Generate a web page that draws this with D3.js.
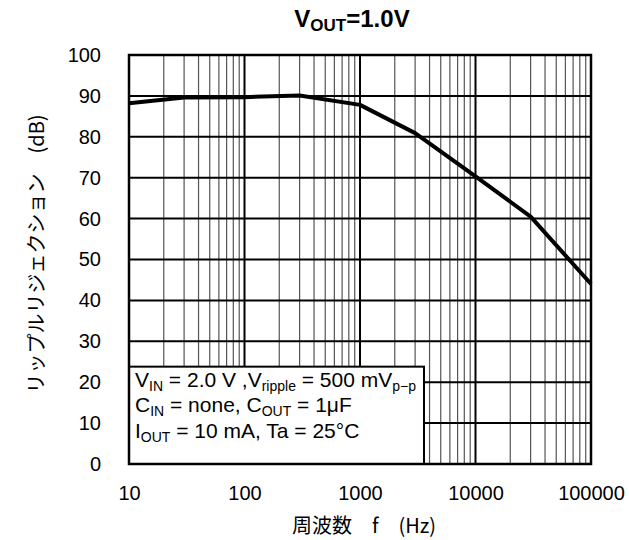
<!DOCTYPE html>
<html>
<head>
<meta charset="utf-8">
<script src="https://cdn.jsdelivr.net/npm/d3@7"></script>
<style>
  body { margin: 0; background: #fff; }
  text { font-family: "Liberation Sans", Arial, sans-serif; fill: #000; }
  .jp { font-family: "Noto Sans CJK JP", "Liberation Sans", sans-serif; }
</style>
</head>
<body>
<div id="chart"></div>
<script>
//Width and height
let w = 629;
let h = 540;
let margin = {top: 55, right: 38, bottom: 76, left: 129};
let labelFont = "20px";

// data
let freqs = [10, 30, 100, 300, 1000, 3000, 10000, 30000, 100000];
let rejection = [88.2, 89.6, 89.7, 90.1, 87.8, 80.9, 70.3, 60.5, 44];
let xTickValues = [10, 100, 1000, 10000, 100000];
let yTickValues = [0, 10, 20, 30, 40, 50, 60, 70, 80, 90, 100];

// legend lines: [text, "sub" or ""]
let legendLines = [
  [["V", ""], ["IN", "sub"], [" = 2.0 V ,V", ""], ["ripple", "sub"], [" = 500 mV", ""], ["p\u2212p", "sub"]],
  [["C", ""], ["IN", "sub"], [" = none, C", ""], ["OUT", "sub"], [" = 1\u03bcF", ""]],
  [["I", ""], ["OUT", "sub"], [" = 10 mA, Ta = 25\u00b0C", ""]]
];

var x = d3.scaleLog()
          .domain([10, 100000])
          .range([margin.left, w - margin.right]);

var y = d3.scaleLinear()
          .domain([0, 100])
          .range([h - margin.bottom, margin.top]);

var svg = d3.select("#chart")
            .append("svg")
            .attr("width", w)
            .attr("height", h);

//minor vertical grid (2..9 of each decade)
var minor = x.ticks().filter(function(d) {
    return xTickValues.indexOf(d) < 0;
});
svg.selectAll("line.minor")
   .data(minor)
   .enter()
   .append("line")
   .attr("class", "minor")
   .attr("x1", function(d) { return x(d); })
   .attr("x2", function(d) { return x(d); })
   .attr("y1", y(0))
   .attr("y2", y(100))
   .style("stroke", "#555")
   .style("stroke-width", 1.2);

//horizontal grid
svg.selectAll("line.hgrid")
   .data(yTickValues)
   .enter()
   .append("line")
   .attr("class", "hgrid")
   .attr("x1", x(10))
   .attr("x2", x(100000))
   .attr("y1", function(d) { return y(d); })
   .attr("y2", function(d) { return y(d); })
   .style("stroke", "#000")
   .style("stroke-width", 2);

//major vertical grid
svg.selectAll("line.major")
   .data(xTickValues)
   .enter()
   .append("line")
   .attr("class", "major")
   .attr("x1", function(d) { return x(d); })
   .attr("x2", function(d) { return x(d); })
   .attr("y1", y(0))
   .attr("y2", y(100))
   .style("stroke", "#000")
   .style("stroke-width", 2);

//curve
var line = d3.line()
             .x(function(d, i) { return x(freqs[i]); })
             .y(function(d) { return y(d); });

svg.append("path")
   .datum(rejection)
   .attr("d", line)
   .style("fill", "none")
   .style("stroke", "#000")
   .style("stroke-width", 4)
   .style("stroke-linejoin", "round");

//legend box
var box = svg.append("g");
box.append("rect")
   .attr("x", x(10))
   .attr("y", y(23.8))
   .attr("width", 295)
   .attr("height", y(0) - y(23.8))
   .style("fill", "#fff")
   .style("stroke", "#000")
   .style("stroke-width", 2);

legendLines.forEach(function(parts, i) {
    var t = box.append("text")
               .attr("x", x(10) + 6)
               .attr("y", y(23.8) + 24 + i * 25.7)
               .style("font-size", "21px");
    parts.forEach(function(p) {
        if (p[1] == "sub") {
            t.append("tspan").attr("dy", 4).style("font-size", "14px").text(p[0]);
        } else {
            t.append("tspan").attr("dy", t.selectAll("tspan").size() ? -4 : 0).text(p[0]);
        }
    });
});

//plot border
svg.append("rect")
   .attr("x", x(10))
   .attr("y", y(100))
   .attr("width", x(100000) - x(10))
   .attr("height", y(0) - y(100))
   .style("fill", "none")
   .style("stroke", "#000")
   .style("stroke-width", 2.5);

//axes (labels only)
var xAxis = d3.axisBottom(x)
              .tickValues(xTickValues)
              .tickFormat(d3.format("d"))
              .tickSize(0)
              .tickPadding(22);
var gx = svg.append("g")
            .attr("transform", "translate(0," + y(0) + ")")
            .call(xAxis);
gx.select(".domain").remove();
gx.selectAll("text").style("font-size", labelFont).attr("font-family", null);

var yAxis = d3.axisLeft(y)
              .tickValues(yTickValues)
              .tickSize(0)
              .tickPadding(28);
var gy = svg.append("g")
            .attr("transform", "translate(" + x(10) + ",0)")
            .call(yAxis);
gy.select(".domain").remove();
gy.selectAll("text").style("font-size", labelFont).attr("font-family", null);

//title
var title = svg.append("text")
               .attr("text-anchor", "middle")
               .attr("x", 352)
               .attr("y", 27)
               .style("font-size", "24px")
               .style("font-weight", "bold");
title.append("tspan").text("V");
title.append("tspan").attr("dy", 4).style("font-size", "17px").text("OUT");
title.append("tspan").attr("dy", -4).text("=1.0V");

//axis titles
svg.append("text")
   .attr("class", "jp")
   .attr("text-anchor", "middle")
   .attr("x", 364)
   .attr("y", 533)
   .style("font-size", "20px")
   .text("周波数\u3000f\u3000(Hz)");

svg.append("text")
   .attr("class", "jp")
   .attr("text-anchor", "middle")
   .attr("transform", "translate(44,254) rotate(-90)")
   .style("font-size", "20px")
   .text("リップルリジェクション\u3000(dB)");
</script>
</body>
</html>
